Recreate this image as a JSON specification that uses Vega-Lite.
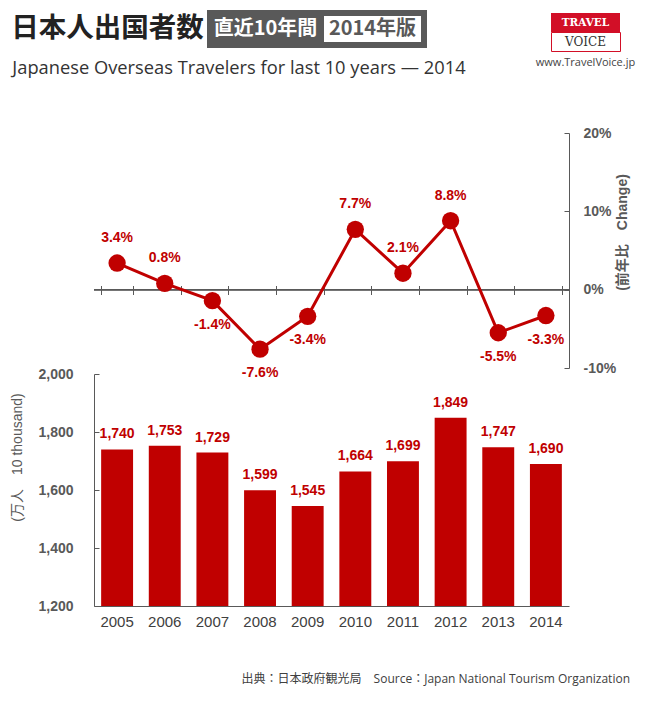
{
  "$schema": "https://vega.github.io/schema/vega-lite/v6.json",
  "padding": {"left": 5, "top": 10, "right": 20, "bottom": 10},
  "background": "white",
  "config": {
    "view": {"stroke": null},
    "font": "Liberation Sans, Noto Sans CJK JP",
    "axis": {"grid": false}
  },
  "datasets": {
    "travel": [
      {"year": "2005", "travelers": 1740, "change": 3.4, "label": "3.4%"},
      {"year": "2006", "travelers": 1753, "change": 0.8, "label": "0.8%"},
      {"year": "2007", "travelers": 1729, "change": -1.4, "label": "-1.4%"},
      {"year": "2008", "travelers": 1599, "change": -7.6, "label": "-7.6%"},
      {"year": "2009", "travelers": 1545, "change": -3.4, "label": "-3.4%"},
      {"year": "2010", "travelers": 1664, "change": 7.7, "label": "7.7%"},
      {"year": "2011", "travelers": 1699, "change": 2.1, "label": "2.1%"},
      {"year": "2012", "travelers": 1849, "change": 8.8, "label": "8.8%"},
      {"year": "2013", "travelers": 1747, "change": -5.5, "label": "-5.5%"},
      {"year": "2014", "travelers": 1690, "change": -3.3, "label": "-3.3%"}
    ]
  },
  "spacing": 47,
  "vconcat": [
    {
      "spacing": 62,
      "hconcat": [
        {
          "spacing": 11,
          "vconcat": [
            {
              "bounds": "flush",
              "spacing": 0,
              "hconcat": [
                {
                  "width": 205, "height": 32,
                  "data": {"values": [{"t": "日本人出国者数"}]},
                  "mark": {"type": "text", "font": "Noto Sans CJK JP", "fontWeight": "bold", "fontSize": 27.5, "color": "#222222"},
                  "encoding": {"text": {"field": "t"}}
                },
                {
                  "width": 111, "height": 32,
                  "view": {"fill": "#595959", "stroke": "#595959", "strokeWidth": 6},
                  "data": {"values": [{"t": "直近10年間"}]},
                  "mark": {"type": "text", "font": "Noto Sans CJK JP", "fontWeight": "bold", "fontSize": 20, "color": "#ffffff"},
                  "encoding": {"text": {"field": "t"}}
                },
                {
                  "width": 103, "height": 32,
                  "view": {"fill": "#ffffff", "stroke": "#595959", "strokeWidth": 6},
                  "data": {"values": [{"t": "2014年版"}]},
                  "mark": {"type": "text", "font": "Noto Sans CJK JP", "fontWeight": "bold", "fontSize": 20, "color": "#595959"},
                  "encoding": {"text": {"field": "t"}}
                }
              ]
            },
            {
              "width": 468, "height": 20,
              "data": {"values": [{"t": "Japanese Overseas Travelers for last 10 years — 2014"}]},
              "mark": {"type": "text", "font": "Open Sans", "fontSize": 18.3, "color": "#333333"},
              "encoding": {"text": {"field": "t"}}
            }
          ]
        },
        {
          "bounds": "flush",
          "spacing": 0,
          "vconcat": [
            {
              "width": 69, "height": 19,
              "view": {"fill": "#d20f27"},
              "data": {"values": [{"t": "TRAVEL"}]},
              "mark": {"type": "text", "font": "DejaVu Serif", "fontWeight": "bold", "fontSize": 10.5, "color": "#ffffff"},
              "encoding": {"text": {"field": "t"}}
            },
            {
              "width": 69, "height": 19,
              "view": {"fill": "#ffffff", "stroke": "#d20f27", "strokeWidth": 1},
              "data": {"values": [{"t": "VOICE"}]},
              "mark": {"type": "text", "font": "DejaVu Serif", "fontSize": 12, "color": "#333333"},
              "encoding": {"text": {"field": "t"}}
            },
            {
              "width": 69, "height": 24,
              "data": {"values": [{"t": "www.TravelVoice.jp"}]},
              "mark": {"type": "text", "font": "Open Sans", "fontSize": 11, "color": "#444444"},
              "encoding": {"text": {"field": "t"}}
            }
          ]
        }
      ]
    },
    {
      "spacing": 4,
      "hconcat": [
        {
          "width": 1, "height": 1,
          "data": {"values": [{}]},
          "mark": {"type": "text", "text": ""}
        },
        {
          "bounds": "flush",
          "spacing": 6,
          "vconcat": [
            {
              "width": 475, "height": 235,
              "data": {"name": "travel"},
              "layer": [
                {
                  "mark": {"type": "rule", "color": "#595959", "strokeWidth": 1},
                  "encoding": {"y": {"datum": 0, "type": "quantitative"}}
                },
                {
                  "encoding": {
                    "x": {
                      "field": "year", "type": "ordinal", "bandPosition": 0.5,
                      "scale": {"type": "band", "paddingInner": 0.33, "paddingOuter": 0.15},
                      "axis": {"orient": "bottom", "offset": -82.5, "labels": false, "domain": false, "ticks": true, "tickSize": 9, "tickBand": "extent", "tickColor": "#595959", "title": null}
                    },
                    "y": {
                      "field": "change", "type": "quantitative",
                      "scale": {"domain": [-10, 20], "nice": false},
                      "axis": {
                        "orient": "right", "values": [-10, 0, 10, 20],
                        "labelExpr": "datum.value + '%'",
                        "domainColor": "#595959", "tickColor": "#595959", "tickSize": -5,
                        "labelPadding": 19, "labelFontSize": 14, "labelFontWeight": "bold", "labelColor": "#595959",
                        "title": "(前年比　Change)", "titleAngle": 270, "titleX": 53, "titleY": 99,
                        "titleAlign": "center", "titleBaseline": "middle",
                        "titleFontSize": 14, "titleFontWeight": "bold", "titleColor": "#595959"
                      }
                    }
                  },
                  "layer": [
                    {"mark": {"type": "line", "color": "#c00000", "strokeWidth": 3}},
                    {"mark": {"type": "point", "filled": true, "size": 300, "color": "#c00000", "opacity": 1}},
                    {
                      "transform": [{"filter": "datum.change >= 0"}],
                      "mark": {"type": "text", "baseline": "alphabetic", "dy": -21, "fontSize": 14, "fontWeight": "bold", "color": "#c00000"},
                      "encoding": {"text": {"field": "label"}}
                    },
                    {
                      "transform": [{"filter": "datum.change < 0"}],
                      "mark": {"type": "text", "baseline": "alphabetic", "dy": 28, "fontSize": 14, "fontWeight": "bold", "color": "#c00000"},
                      "encoding": {"text": {"field": "label"}}
                    }
                  ]
                }
              ]
            },
            {
              "width": 475, "height": 232,
              "data": {"name": "travel"},
              "title": {
                "text": "出典：日本政府観光局　Source：Japan National Tourism Organization",
                "orient": "bottom", "anchor": "end", "frame": "group",
                "offset": 45, "dx": 61,
                "font": "Open Sans, Noto Sans CJK JP", "fontSize": 12, "fontWeight": "normal", "color": "#404040"
              },
              "encoding": {
                "x": {
                  "field": "year", "type": "ordinal",
                  "scale": {"type": "band", "paddingInner": 0.33, "paddingOuter": 0.15},
                  "axis": {"title": null, "ticks": false, "labelAngle": 0, "labelPadding": 8, "labelFontSize": 15, "labelColor": "#404040", "domainColor": "#595959"}
                },
                "y": {
                  "field": "travelers", "type": "quantitative",
                  "scale": {"domain": [1200, 2000], "zero": false, "nice": false},
                  "axis": {
                    "values": [1200, 1400, 1600, 1800, 2000], "format": ",d",
                    "domainColor": "#595959", "tickColor": "#595959", "tickSize": -5,
                    "labelPadding": 26, "labelFontSize": 14, "labelFontWeight": "bold", "labelColor": "#595959",
                    "title": "(万人　10 thousand)", "titleAngle": 270, "titleX": -77, "titleY": 83,
                    "titleAlign": "center", "titleBaseline": "middle",
                    "titleFontSize": 14, "titleFontWeight": "normal", "titleColor": "#595959"
                  }
                }
              },
              "layer": [
                {"mark": {"type": "bar", "color": "#c00000", "clip": true}},
                {
                  "mark": {"type": "text", "baseline": "alphabetic", "dy": -11, "fontSize": 14, "fontWeight": "bold", "color": "#c00000"},
                  "encoding": {
                    "text": {"field": "travelers", "type": "quantitative", "format": ","}
                  }
                }
              ]
            }
          ]
        }
      ]
    }
  ]
}
